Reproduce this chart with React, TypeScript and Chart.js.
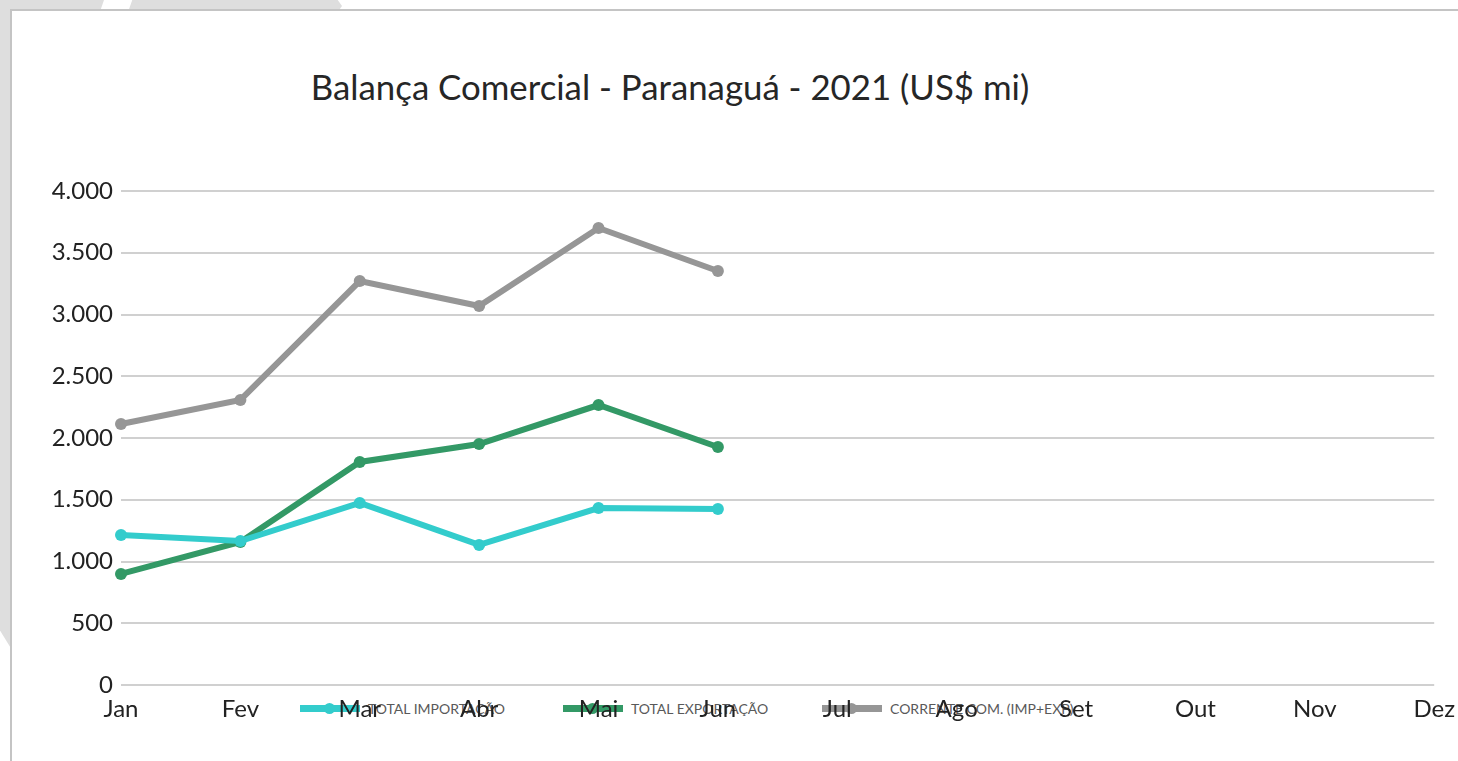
import React, { useEffect, useRef } from "react";
import { Chart, registerables } from "chart.js";

Chart.register(...registerables);

const months = ["Jan", "Fev", "Mar", "Abr", "Mai", "Jun", "Jul", "Ago", "Set", "Out", "Nov", "Dez"];
const totalImportacao = [1215, 1166, 1474, 1134, 1433, 1425];
const totalExportacao = [899, 1158, 1806, 1951, 2267, 1927];
const correnteComercio = [2113, 2308, 3271, 3069, 3700, 3352];
const seriesNames = ["TOTAL IMPORTAÇÃO", "TOTAL EXPORTAÇÃO", "CORRENTE COM. (IMP+EXP)"];
const seriesColors = ["#33CCCC", "#339966", "#969696"];
const yMin = 0;
const yMax = 4000;
const yStep = 500;

const FONT = "Lato, 'Open Sans', sans-serif";

function fmt(v: number): string {
  return String(v).replace(/\B(?=(\d{3})+(?!\d))/g, ".");
}

function ChartCanvas() {
  const ref = useRef<HTMLCanvasElement | null>(null);
  useEffect(() => {
    if (!ref.current) return;
    const values = [totalImportacao, totalExportacao, correnteComercio];
    const chart = new Chart(ref.current, {
      type: "line",
      data: {
        labels: months,
        datasets: values.map((d, i) => ({
          label: seriesNames[i],
          data: d,
          borderColor: seriesColors[i],
          backgroundColor: seriesColors[i],
          borderWidth: 6,
          pointRadius: 6,
          pointHoverRadius: 6,
          pointBorderWidth: 0,
          tension: 0,
          fill: false,
        })),
      },
      options: {
        responsive: false,
        animation: false,
        layout: { padding: { top: 181, left: 0, right: 0, bottom: 40 } },
        plugins: {
          legend: { display: false },
          title: { display: false },
          tooltip: { enabled: false },
        },
        scales: {
          x: {
            offset: false,
            grid: { display: false, drawTicks: false },
            border: { display: false },
            ticks: {
              color: "#222",
              font: { family: FONT, size: 24 },
              padding: 10,
              maxRotation: 0,
              autoSkip: false,
            },
            afterFit: (s: any) => {
              s.height = 36;
            },
          },
          y: {
            min: yMin,
            max: yMax,
            grid: { color: "#d0d0d0", lineWidth: 2, drawTicks: false },
            border: { display: false },
            ticks: {
              stepSize: yStep,
              color: "#222",
              font: { family: FONT, size: 24 },
              padding: 8,
              callback: (v: any) => fmt(Number(v)),
            },
            afterFit: (s: any) => {
              s.width = 111;
            },
          },
        },
      },
    });
    return () => chart.destroy();
  }, []);
  return (
    <canvas
      ref={ref}
      width={1455}
      height={751}
      style={{ position: "absolute", left: 10, top: 10, width: 1455, height: 751 }}
    />
  );
}

export default function App() {
  const gray = "#dedede";
  return (
    <div
      style={{
        position: "fixed",
        left: 0,
        top: 0,
        width: 1458,
        height: 761,
        overflow: "hidden",
        background: "#ffffff",
        fontFamily: FONT,
      }}
    >
      {/* background decoration */}
      <div style={{ position: "absolute", left: 0, top: 0, width: 1458, height: 761 }}>
        <div style={{ position: "absolute", left: 0, top: 0, width: 104, height: 12, background: gray, clipPath: "polygon(0 0,100% 0,96% 100%,0 100%)" }} />
        <div style={{ position: "absolute", left: 128, top: 0, width: 214, height: 12, background: gray, clipPath: "polygon(2% 0,98% 0,100% 50%,98% 100%,0 100%)" }} />
        <div style={{ position: "absolute", left: 0, top: 0, width: 12, height: 650, background: gray, clipPath: "polygon(0 0,100% 0,100% 100%,0 97%)" }} />
      </div>
      {/* white panel with border */}
      <div
        style={{
          position: "absolute",
          left: 10,
          top: 9,
          width: 1460,
          height: 770,
          background: "#ffffff",
          borderLeft: "2px solid #c4c4c4",
          borderTop: "2px solid #c4c4c4",
          boxShadow: "0 1px 0 #e4e4e4",
        }}
      />
      {/* title */}
      <div
        style={{
          position: "absolute",
          left: 670,
          top: 69,
          transform: "translateX(-50%)",
          whiteSpace: "nowrap",
          fontSize: 34.8,
          lineHeight: "35px",
          color: "#262626",
        }}
      >
        Balança Comercial - Paranaguá - 2021 (US$ mi)
      </div>
      {/* legend */}
      {[300, 563, 822].map((x, i) => (
        <div
          key={i}
          style={{ position: "absolute", left: x, top: 700, height: 16, display: "flex", alignItems: "center", whiteSpace: "nowrap" }}
        >
          <div style={{ position: "relative", width: 60, height: 7, background: seriesColors[i] }}>
            <div
              style={{
                position: "absolute",
                left: 24,
                top: -2,
                width: 11,
                height: 11,
                borderRadius: 6,
                background: seriesColors[i],
              }}
            />
          </div>
          <span style={{ marginLeft: 8, fontSize: 14, color: "#595959" }}>{seriesNames[i]}</span>
        </div>
      ))}
      <ChartCanvas />
    </div>
  );
}
